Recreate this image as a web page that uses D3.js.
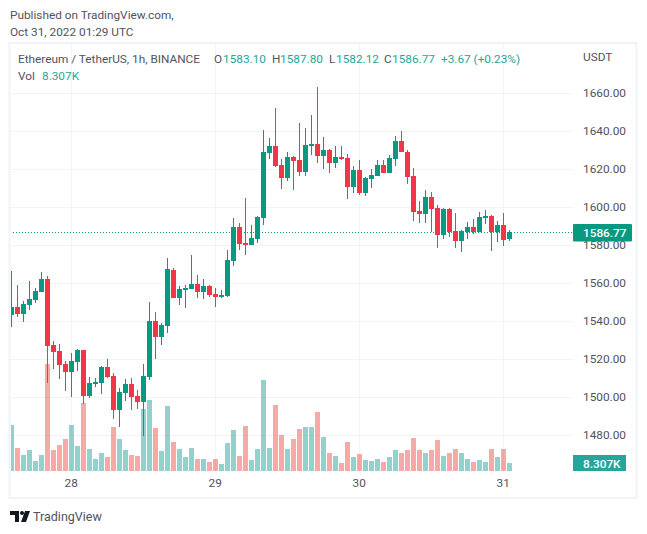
<!DOCTYPE html>
<html><head><meta charset="utf-8">
<style>html,body{margin:0;padding:0;background:#fff}svg{display:block}
text{font-family:Roboto,"Open Sans",sans-serif;font-size:11.8px;fill:#50535e}</style>
<script src="https://cdn.jsdelivr.net/npm/d3@7"></script></head><body>
<svg id="c" width="647" height="534"></svg>
<script>
const opens=[1543.16,1547.37,1543.68,1548.42,1551.05,1555.26,1562.10,1527.37,1524.21,1517.37,1513.16,1518.42,1524.74,1500.52,1506.84,1507.37,1515.79,1511.05,1493.16,1502.10,1506.84,1500.52,1497.37,1510.52,1540.00,1531.58,1537.37,1566.84,1552.10,1556.31,1556.84,1559.47,1555.26,1558.42,1554.21,1552.63,1553.16,1571.58,1589.47,1581.05,1580.00,1583.16,1594.21,1628.42,1632.10,1622.10,1615.26,1626.31,1624.73,1618.42,1632.11,1633.16,1626.84,1630.00,1623.16,1626.32,1625.79,1610.53,1619.47,1607.37,1614.74,1616.32,1622.11,1617.90,1625.26,1634.74,1628.95,1616.32,1597.90,1596.32,1605.26,1599.47,1585.26,1598.95,1587.37,1582.11,1586.84,1589.47,1586.84,1594.21,1595.26,1586.84,1590.53,1583.10];
const highs=[1566.31,1558.95,1550.52,1561.05,1557.37,1565.79,1563.68,1529.47,1527.89,1518.95,1523.16,1525.26,1524.74,1510.52,1510.00,1516.31,1520.00,1512.63,1504.74,1509.47,1510.00,1503.68,1517.37,1550.00,1544.74,1538.95,1573.16,1567.89,1558.42,1558.95,1574.73,1564.21,1562.10,1558.95,1557.37,1556.31,1577.37,1594.21,1591.58,1604.73,1590.52,1595.26,1640.52,1636.31,1652.10,1625.26,1628.95,1626.84,1644.21,1641.58,1648.42,1663.16,1636.84,1630.53,1632.11,1632.11,1627.90,1621.58,1624.74,1615.79,1620.00,1624.74,1624.74,1627.37,1637.37,1640.00,1630.00,1620.53,1603.16,1608.95,1607.90,1601.05,1599.47,1599.47,1596.84,1587.90,1592.11,1593.68,1597.37,1598.42,1595.79,1592.63,1596.84,1587.80];
const lows=[1536.84,1542.10,1539.47,1545.79,1549.47,1555.26,1507.37,1514.74,1509.47,1503.16,1500.00,1513.68,1496.31,1499.47,1505.26,1501.58,1510.00,1488.42,1484.21,1497.89,1493.16,1493.68,1479.47,1508.95,1520.00,1527.37,1533.68,1552.10,1548.42,1546.84,1556.84,1552.10,1551.58,1552.63,1547.37,1552.10,1552.63,1568.95,1577.37,1574.73,1580.00,1581.05,1590.52,1625.26,1621.05,1609.47,1613.68,1608.95,1616.31,1616.31,1627.37,1623.16,1620.00,1617.90,1620.53,1624.74,1604.21,1607.37,1606.32,1605.79,1610.00,1616.32,1617.90,1617.90,1621.58,1628.95,1612.11,1592.63,1591.58,1591.58,1586.84,1578.42,1583.16,1584.21,1578.42,1576.32,1583.16,1585.79,1586.84,1591.05,1576.84,1581.58,1579.47,1582.12];
const closes=[1547.37,1543.68,1548.95,1551.58,1555.79,1562.10,1526.84,1523.68,1516.84,1513.16,1518.95,1524.74,1500.52,1507.37,1507.89,1515.79,1510.52,1493.16,1502.63,1506.84,1500.00,1497.37,1511.05,1540.00,1531.58,1537.89,1567.37,1552.10,1556.84,1557.37,1559.47,1555.26,1558.42,1553.68,1552.63,1553.68,1572.10,1589.47,1580.52,1580.00,1583.68,1594.73,1628.95,1632.10,1621.58,1615.26,1626.31,1624.21,1618.42,1632.63,1633.16,1626.84,1630.00,1623.16,1626.32,1625.26,1610.53,1619.47,1607.37,1615.26,1616.84,1622.11,1617.90,1625.79,1634.74,1628.95,1615.79,1597.37,1596.32,1605.26,1598.95,1585.26,1598.95,1586.84,1582.11,1587.37,1589.47,1586.84,1594.74,1595.26,1586.84,1590.53,1582.63,1586.77];
const volumes=[47.8,23.9,16.6,21.8,10.4,16.6,111.1,21.8,27,33.2,47.8,26,70.6,22.8,12.5,18.7,14.5,45.7,33.2,21.8,16.6,15.6,64.4,73.7,44.6,20.8,67.5,30.1,22.8,14.5,23.9,12.5,12.5,9.3,12.5,7.3,29.1,42.6,15.6,46.7,11.4,22.8,94.5,23.9,68.5,37.4,22.8,33.2,43.6,45.7,45.7,61.2,35.3,18.7,15.6,8.3,30.1,14.5,17.6,11.4,10.4,12.5,9.3,14.5,21.8,18.7,21.8,34.3,21.8,18.7,21.8,32.2,15.6,18.7,22.8,18.7,12.5,9.3,11.4,9.3,22.8,14.5,22.8,8.307];
const priceTicks=[1480,1500,1520,1540,1560,1580,1600,1620,1640,1660];
const dayIndex=[10,34,58,82];
const dayLabels=["28","29","30","31"];
const lastPrice=1586.77, lastVolume="8.307K";
const publishedLines=["Published on TradingView.com,","Oct 31, 2022 01:29 UTC"];

const GREEN="#089981",RED="#f23645",GRID="#f0f3fa",TEAL="#26a69a",TXT="#50535e";
const svg=d3.select("#c");
const x=d3.scaleLinear().domain([0,83]).range([11.5,509.5]);
const y=d3.scaleLinear().domain([1480,1660]).range([435,93]);
const v=d3.scaleLinear().domain([0,111.1]).range([471,364]);
const L=10,R=573,T=44,B=472;
const up=i=>closes[i]>=opens[i];
const idx=d3.range(opens.length);

publishedLines.forEach((t,i)=>svg.append("text").attr("x",10).attr("y",19+i*16.5).text(t));
svg.append("rect").attr("x",9.5).attr("y",43).attr("width",627).attr("height",455).attr("fill","none").attr("stroke",GRID).attr("stroke-width",2);
svg.append("clipPath").attr("id","p").append("rect").attr("x",L+1).attr("y",T).attr("width",R-L-1).attr("height",B-T);

const yAxis=svg.append("g").attr("transform",`translate(${R},-1)`)
 .call(d3.axisRight(y).tickValues(priceTicks).tickFormat(d3.format(".2f")).tickSize(0).tickPadding(10));
yAxis.select(".domain").remove();
yAxis.selectAll("text").attr("dy","0.36em");
const xAxis=svg.append("g").attr("transform",`translate(-0.8,${B})`)
 .call(d3.axisBottom(x).tickValues(dayIndex).tickFormat((d,i)=>dayLabels[i]).tickSize(0).tickPadding(7));
xAxis.select(".domain").remove();
const grid=svg.append("g").attr("shape-rendering","crispEdges");
grid.selectAll("line.h").data(priceTicks).join("line").attr("x1",L).attr("x2",R)
 .attr("y1",d=>Math.round(y(d))+.5).attr("y2",d=>Math.round(y(d))+.5).attr("stroke",GRID);
grid.selectAll("line.v").data(dayIndex).join("line").attr("y1",T).attr("y2",B)
 .attr("x1",d=>Math.floor(x(d))+.5).attr("x2",d=>Math.floor(x(d))+.5).attr("stroke",GRID);

const plot=svg.append("g").attr("clip-path","url(#p)").attr("shape-rendering","crispEdges");
plot.selectAll("rect.vol").data(idx).join("rect").attr("class","vol")
 .attr("x",i=>Math.floor(x(i))-2).attr("width",5)
 .attr("y",i=>v(volumes[i])).attr("height",i=>v(0)-v(volumes[i]))
 .attr("fill",i=>up(i)?"rgba(38,166,154,.5)":"rgba(239,83,80,.5)");
plot.append("line").attr("x1",L).attr("x2",R).attr("y1",y(lastPrice)).attr("y2",y(lastPrice))
 .attr("stroke",GREEN).attr("stroke-dasharray","1 2").attr("stroke-width",1);
plot.selectAll("rect.wick").data(idx).join("rect").attr("class","wick")
 .attr("x",i=>Math.floor(x(i))).attr("width",1)
 .attr("y",i=>y(highs[i])).attr("height",i=>y(lows[i])-y(highs[i]))
 .attr("fill",i=>up(i)?GREEN:RED);
plot.selectAll("rect.body").data(idx).join("rect").attr("class","body")
 .attr("x",i=>Math.floor(x(i))-2).attr("width",5)
 .attr("y",i=>y(Math.max(opens[i],closes[i])))
 .attr("height",i=>Math.max(1,Math.abs(y(opens[i])-y(closes[i]))))
 .attr("fill",i=>up(i)?GREEN:RED);

svg.append("rect").attr("x",R).attr("y",224).attr("width",59).attr("height",17.5).attr("fill",GREEN).attr("rx",1);
svg.append("text").attr("x",583).attr("y",237).style("fill","#fff").style("font-weight",500).text(lastPrice.toFixed(2));
svg.append("rect").attr("x",R).attr("y",455).attr("width",53).attr("height",16).attr("fill",TEAL);
svg.append("text").attr("x",583).attr("y",467.5).style("fill","#fff").style("font-weight",500).text(lastVolume);

svg.append("text").attr("x",583).attr("y",61).text("USDT");

const legend=[[18,"Ethereum / TetherUS, 1h, BINANCE",TXT],[214,"O",TXT],[223,"1583.10",TEAL],[272,"H",TXT],[280,"1587.80",TEAL],[329,"L",TXT],[336,"1582.12",TEAL],[384,"C",TXT],[392,"1586.77",TEAL],[441,"+3.67 (+0.23%)",TEAL]];
legend.forEach(d=>svg.append("text").attr("x",d[0]).attr("y",63).style("fill",d[2]).text(d[1]));
svg.append("text").attr("x",18).attr("y",80).text("Vol");
svg.append("text").attr("x",42).attr("y",80).style("fill",TEAL).text(lastVolume);

svg.append("path").attr("fill","#131722").attr("d","M10 511h9v11h-4v-7h-5zM22 511a2 2 0 1 0 .01 0zM25 511h5l-4 11h-5z");
svg.append("text").attr("x",33).attr("y",521).style("font-size","12.5px").text("TradingView");
</script></body></html>
